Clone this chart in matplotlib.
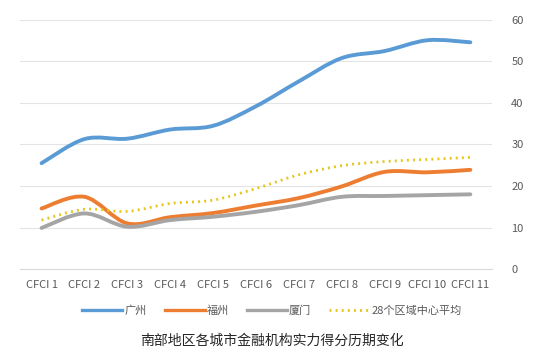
import matplotlib.pyplot as plt
from matplotlib.path import Path
from matplotlib.patches import PathPatch
from matplotlib.lines import Line2D
import numpy as np

plt.rcParams['font.family'] = ['Noto Sans CJK SC', 'DejaVu Sans']

# dati
categorie = ["CFCI 1", "CFCI 2", "CFCI 3", "CFCI 4", "CFCI 5", "CFCI 6",
             "CFCI 7", "CFCI 8", "CFCI 9", "CFCI 10", "CFCI 11"]
guangzhou = [25.5, 31.3, 31.4, 33.6, 34.5, 39.2, 45.2, 50.8, 52.5, 55.1, 54.6]
fuzhou = [14.6, 17.4, 11.0, 12.5, 13.5, 15.3, 17.1, 19.9, 23.4, 23.3, 23.9]
xiamen = [9.9, 13.4, 10.2, 11.8, 12.6, 13.8, 15.4, 17.4, 17.6, 17.8, 18.0]
media28 = [11.8, 14.4, 13.9, 15.8, 16.6, 19.4, 22.7, 24.9, 25.9, 26.4, 26.9]

serie = [("广州", guangzhou, "#5B9BD5", "-"),
         ("福州", fuzhou, "#ED7D31", "-"),
         ("厦门", xiamen, "#A5A5A5", "-"),
         ("28个区域中心平均", media28, "#E6C619", ":")]

testo = "#595959"


def curva_liscia(x, y):
    # curva tipo Excel (Catmull-Rom con Bezier)
    p = np.column_stack([x, y]).astype(float)
    pts = [p[0]]
    codes = [Path.MOVETO]
    n = len(p)
    for i in range(n - 1):
        p0 = p[i - 1] if i > 0 else p[i]
        p3 = p[i + 2] if i + 2 < n else p[i + 1]
        c1 = p[i] + (p[i + 1] - p0) / 6
        c2 = p[i + 1] - (p3 - p[i]) / 6
        pts += [c1, c2, p[i + 1]]
        codes += [Path.CURVE4] * 3
    return Path(pts, codes)


fig = plt.figure(figsize=(5.44, 3.55), dpi=100)
ax = fig.add_axes([0.037, 0.242, 0.867, 0.702])

x = np.arange(len(categorie))
handles = []
for nome, valori, colore, stile in serie:
    if stile == ":":
        patch = PathPatch(curva_liscia(x, valori), fill=False, edgecolor=colore,
                          linewidth=2.0, linestyle=(0, (0.7, 1.5)),
                          capstyle='butt')
        h = Line2D([], [], color=colore, linewidth=2.0,
                   linestyle=(0, (0.7, 1.5)))
    else:
        patch = PathPatch(curva_liscia(x, valori), fill=False, edgecolor=colore,
                          linewidth=2.8, capstyle='round')
        h = Line2D([], [], color=colore, linewidth=2.4)
    ax.add_patch(patch)
    handles.append(h)

ax.set_xlim(-0.5, len(categorie) - 0.5)
ax.set_ylim(0, 60)
ax.set_xticks(x)
ax.set_xticklabels(categorie)
ax.set_yticks(range(0, 61, 10))
ax.yaxis.tick_right()
ax.tick_params(axis='both', length=0, colors=testo, labelsize=8)
ax.tick_params(axis='x', pad=8)
ax.tick_params(axis='y', pad=14)

for s in ax.spines.values():
    s.set_visible(False)
ax.spines['bottom'].set_visible(True)
ax.spines['bottom'].set_color("#D9D9D9")
ax.grid(True, axis='y', color="#E4E4E4", linewidth=0.8)
ax.set_axisbelow(True)

fig.legend(handles, [s[0] for s in serie], loc='center', ncol=4,
           bbox_to_anchor=(0.5, 0.125), frameon=False, fontsize=8,
           labelcolor=testo, handlelength=3.6, handletextpad=0.2,
           columnspacing=1.6)

fig.text(0.5, 0.04, "南部地区各城市金融机构实力得分历期变化", ha='center',
         va='center', fontsize=10, color="#262626")

plt.savefig("out.png", dpi=100)
plt.close()
